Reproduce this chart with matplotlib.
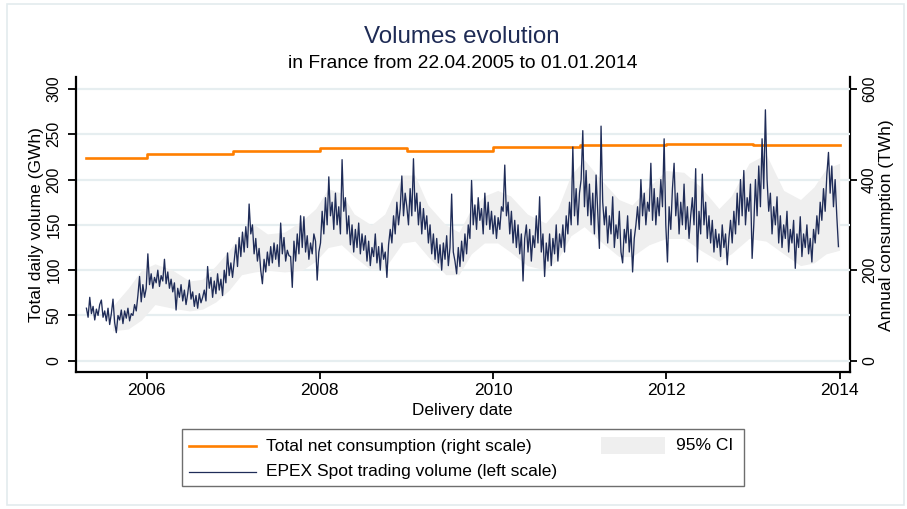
import matplotlib
matplotlib.use("Agg")
import matplotlib.pyplot as plt
import numpy as np
import pandas as pd
from matplotlib.patches import Rectangle
from matplotlib.lines import Line2D

plt.rcParams['font.family'] = ['Liberation Sans', 'DejaVu Sans']

# ---------------------------------------------------------------------------
# EPEX Spot daily trading volume (GWh), sampled weekly from 22.04.2005
# ---------------------------------------------------------------------------
vol_2005 = [58, 48, 70, 52, 60, 45, 57, 50, 62, 67, 48, 55, 44, 58, 40, 52, 68, 42, 31, 50,
            45, 56, 41, 55, 47, 58, 44, 52, 50, 62, 55, 72, 93, 65, 84, 70, 80]
vol_2006 = [118, 84, 96, 80, 92, 86, 100, 82, 94, 88, 112, 85, 98, 80, 90, 76, 86, 56, 80, 70,
            84, 66, 78, 62, 74, 89, 68, 76, 60, 72, 58, 74, 64, 70, 78, 66, 104, 80, 92, 70,
            88, 74, 96, 78, 90, 72, 100, 86, 119, 94, 108, 92]
vol_2007 = [110, 128, 104, 136, 115, 142, 120, 148, 125, 173, 140, 150, 118, 135, 110, 124, 100, 85, 112, 98,
            120, 105, 126, 108, 130, 112, 128, 104, 152, 118, 136, 110, 122, 116, 115, 81, 132, 110, 140, 118,
            160, 125, 159, 120, 138, 112, 130, 118, 140, 132, 89, 120]
vol_2008 = [130, 165, 140, 180, 150, 203, 160, 175, 145, 185, 150, 170, 140, 222, 165, 180, 140, 160, 128, 150,
            120, 145, 125, 152, 118, 140, 122, 138, 110, 132, 105, 125, 115, 140, 108, 126, 100, 130, 112, 120,
            92, 128, 145, 130, 160, 140, 175, 150, 168, 204, 160, 185]
vol_2009 = [170, 150, 190, 160, 223, 165, 185, 150, 175, 140, 168, 145, 160, 130, 150, 118, 140, 112, 135, 108,
            128, 100, 130, 112, 138, 105, 125, 184, 120, 110, 96, 125, 104, 132, 110, 140, 118, 150, 135, 199,
            150, 172, 145, 180, 155, 168, 140, 185, 150, 175, 145, 165]
vol_2010 = [140, 160, 135, 158, 145, 170, 165, 216, 160, 175, 140, 165, 130, 155, 125, 150, 118, 140, 88, 135,
            150, 120, 145, 110, 138, 125, 160, 130, 181, 120, 140, 93, 130, 110, 140, 105, 135, 118, 150, 110,
            140, 125, 150, 120, 160, 140, 175, 150, 236, 160, 190, 150, 185]
vol_2011 = [200, 254, 170, 210, 160, 195, 150, 185, 140, 205, 165, 124, 259, 175, 150, 170, 130, 160, 140, 181,
            125, 150, 135, 165, 120, 108, 145, 130, 160, 120, 145, 98, 135, 150, 170, 145, 200, 160, 185, 150,
            175, 165, 218, 155, 190, 150, 180, 160, 200, 170, 245, 150]
vol_2012 = [109, 170, 145, 190, 218, 160, 185, 140, 175, 150, 195, 145, 170, 135, 160, 180, 150, 212, 109, 165,
            140, 206, 150, 175, 135, 160, 130, 155, 120, 145, 125, 140, 115, 150, 125, 140, 106, 135, 155, 130,
            165, 140, 185, 150, 200, 160, 210, 150, 180, 165, 195, 113]
vol_2013 = [150, 200, 160, 215, 170, 245, 190, 277, 200, 165, 185, 140, 170, 150, 181, 130, 160, 125, 150, 135,
            165, 120, 145, 130, 155, 102, 140, 125, 159, 115, 140, 125, 150, 118, 135, 109, 145, 130, 160, 140,
            175, 155, 190, 165, 205, 230, 185, 215, 170, 200, 160, 126]
volume_start = "2005-04-22"

# 95% confidence band around the volume (GWh)
ci_dates = ["2005-08-10", "2005-10-15", "2005-12-10", "2006-02-05", "2006-04-20", "2006-07-01",
            "2006-08-25", "2006-10-20", "2006-12-15", "2007-02-05", "2007-04-01", "2007-05-25",
            "2007-08-05", "2007-10-20", "2007-12-15", "2008-02-05", "2008-04-01", "2008-05-25",
            "2008-08-05", "2008-10-01", "2008-12-15", "2009-02-05", "2009-04-01", "2009-06-15",
            "2009-08-10", "2009-10-01", "2009-11-25", "2010-01-20", "2010-03-15", "2010-05-25",
            "2010-08-10", "2010-10-01", "2010-11-25", "2011-01-20", "2011-03-15", "2011-06-15",
            "2011-08-10", "2011-10-20", "2011-12-31", "2012-03-15", "2012-05-25", "2012-08-10",
            "2012-10-01", "2012-12-15", "2013-02-25", "2013-05-10", "2013-07-20", "2013-09-15",
            "2013-11-05", "2014-01-01"]
ci_low = [33, 35, 45, 62, 58, 55, 57, 65, 78, 95, 98, 100, 98, 100, 110, 125, 128, 115, 100, 102,
          130, 132, 115, 95, 95, 118, 130, 130, 120, 105, 100, 112, 138, 148, 135, 115, 115, 128, 135,
          135, 122, 110, 118, 135, 132, 118, 105, 108, 118, 122]
ci_high = [60, 80, 100, 107, 100, 88, 90, 105, 122, 140, 150, 140, 142, 155, 168, 190, 185, 162, 150, 162,
           205, 205, 172, 150, 142, 168, 182, 188, 182, 162, 152, 168, 205, 222, 205, 178, 172, 192, 210,
           208, 192, 168, 182, 218, 228, 188, 178, 192, 212, 218]

# Total annual net consumption (TWh), one level per calendar year
cons_dates = ["2005-04-22", "2006-01-01", "2007-01-01", "2008-01-01", "2009-01-01",
              "2010-01-01", "2011-01-01", "2012-01-01", "2013-01-01", "2014-01-01"]
cons_twh = [448, 457, 464, 470, 463, 473, 477, 479, 477]

year_ticks = [2006, 2008, 2010, 2012, 2014]
left_ticks = [0, 50, 100, 150, 200, 250, 300]
right_ticks = [0, 200, 400, 600]

NAVY = "#1f2c58"
ORANGE = "#ff7f00"
BAND = "#efefef"
GRID = "#e6eef0"

W, H = 907, 509
fig = plt.figure(figsize=(W / 100, H / 100), dpi=100)
fig.patch.set_facecolor("white")


def fx(px):
    return px / W


def fy(py):
    return 1 - py / H


# light frame around the whole graph region
fig.add_artist(Rectangle((fx(7), fy(505)), fx(904) - fx(7), fy(4) - fy(505),
                         transform=fig.transFigure, fill=False, edgecolor="#e3ebee", lw=1.2))

ax = fig.add_axes([fx(76), fy(371.7), fx(850.3) - fx(76), fy(77.3) - fy(371.7)])
ax2 = ax.twinx()
ax.set_zorder(ax2.get_zorder() + 1)
ax.patch.set_visible(False)

volume = vol_2005 + vol_2006 + vol_2007 + vol_2008 + vol_2009 + vol_2010 + vol_2011 + vol_2012 + vol_2013
vol_dates = pd.date_range(volume_start, periods=len(volume), freq="7D")

ci_x = pd.to_datetime(ci_dates)
ax.fill_between(ci_x, ci_low, ci_high, color=BAND, lw=0, zorder=1)
ax.plot(vol_dates, volume, color=NAVY, lw=0.95, zorder=3)

cons_x = pd.to_datetime(cons_dates)
ax2.step(cons_x, cons_twh + [cons_twh[-1]], where="post", color=ORANGE, lw=1.9)

ax.set_xlim(pd.Timestamp("2005-03-09"), pd.Timestamp("2014-02-15"))
ax.set_ylim(-12.1, 312.9)
ax2.set_ylim(-24.2, 625.8)

ax.set_yticks(left_ticks)
ax.set_yticklabels([str(t) for t in left_ticks])
ax2.set_yticks(right_ticks)
ax2.set_yticklabels([str(t) for t in right_ticks])
ax.set_xticks([pd.Timestamp(f"{y}-01-01") for y in year_ticks])
ax.set_xticklabels([str(y) for y in year_ticks])

ax.yaxis.grid(True, color=GRID, lw=1.6, zorder=0.5)
ax.set_axisbelow(True)

for a in (ax, ax2):
    a.spines["top"].set_visible(False)
    for s in a.spines.values():
        s.set_linewidth(1.6)
        s.set_color("black")
ax.spines["right"].set_visible(False)
ax2.spines["left"].set_visible(False)
ax2.spines["bottom"].set_visible(False)

ax.tick_params(axis="y", length=5.8, width=1.3, pad=4.8, labelsize=11.3, rotation=90)
ax.tick_params(axis="x", length=5.2, width=1.3, pad=3.0, labelsize=12.5)
ax2.tick_params(axis="y", length=5.2, width=1.3, pad=3.2, labelsize=11.3, rotation=90)
for lbl in ax.get_yticklabels():
    lbl.set_va("center")
for lbl in ax2.get_yticklabels():
    lbl.set_va("center")

# titles and axis titles
fig.text(fx(462), fy(36.7), "Volumes evolution", ha="center", va="center",
         fontsize=17.4, color="#1e2b55")
fig.text(fx(462.5), fy(63), "in France from 22.04.2005 to 01.01.2014", ha="center", va="center",
         fontsize=13.9, color="black")
fig.text(fx(36.7), fy(225), "Total daily volume (GWh)", rotation=90, ha="center", va="center",
         fontsize=12.5)
fig.text(fx(886.7), fy(225), "Annual consumption (TWh)", rotation=90, ha="center", va="center",
         fontsize=12.5)
fig.text(fx(462), fy(410), "Delivery date", ha="center", va="center", fontsize=12.3)

# legend box
fig.add_artist(Rectangle((fx(181.5), fy(486)), fx(744) - fx(181.5), fy(429) - fy(486),
                         transform=fig.transFigure, facecolor="white", edgecolor="#6e6e6e", lw=1.0))
fig.add_artist(Line2D([fx(189), fx(256)], [fy(446), fy(446)], transform=fig.transFigure,
                      color=ORANGE, lw=1.9))
fig.add_artist(Line2D([fx(189), fx(256)], [fy(471.7), fy(471.7)], transform=fig.transFigure,
                      color=NAVY, lw=0.9))
fig.add_artist(Rectangle((fx(600.5), fy(454)), fx(664.5) - fx(600.5), fy(437) - fy(454),
                         transform=fig.transFigure, facecolor=BAND, edgecolor="none"))
fig.text(fx(265.7), fy(446), "Total net consumption (right scale)", ha="left", va="center", fontsize=12.5)
fig.text(fx(265.7), fy(471.7), "EPEX Spot trading volume (left scale)", ha="left", va="center", fontsize=12.5)
fig.text(fx(676), fy(446), "95% CI", ha="left", va="center", fontsize=12.5)

fig.savefig("out.png", dpi=100)
